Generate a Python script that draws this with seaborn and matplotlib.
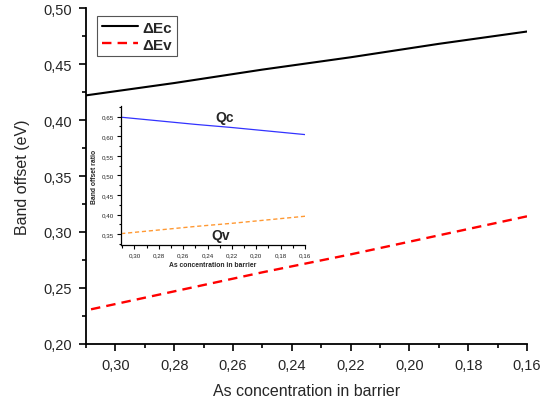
import matplotlib
matplotlib.use("Agg")
import matplotlib.pyplot as plt
from matplotlib.ticker import FuncFormatter, MultipleLocator
import seaborn as sns
import pandas as pd

# As concentration in the barrier and the band offsets (eV)
conc = [0.31, 0.28, 0.25, 0.22, 0.19, 0.16]
delta_ec = [0.422, 0.433, 0.445, 0.456, 0.468, 0.479]
delta_ev = [0.230, 0.247, 0.264, 0.280, 0.297, 0.314]

# Band offset ratios for the inset
q_c = [0.648, 0.639, 0.630, 0.622, 0.613, 0.604]
q_v = [0.352, 0.361, 0.370, 0.378, 0.387, 0.396]

sns.set_style("ticks")
plt.rcParams["font.family"] = ["Liberation Sans", "DejaVu Sans"]

df = pd.DataFrame({"conc": conc, "dEc": delta_ec, "dEv": delta_ev,
                   "Qc": q_c, "Qv": q_v})

comma = FuncFormatter(lambda v, _: f"{v:.2f}".replace(".", ","))

fig = plt.figure(figsize=(5.43, 4.02), dpi=100)
ax = fig.add_axes([0.1584, 0.1418, 0.8121, 0.8358])

sns.lineplot(data=df, x="conc", y="dEc", ax=ax, color="black", lw=1.5,
             label="ΔEc")
sns.lineplot(data=df, x="conc", y="dEv", ax=ax, color="#ff0000", lw=1.7,
             label="ΔEv", dashes=False)
ax.lines[1].set_dashes((4, 2.6))

ax.set_xlim(0.31, 0.16)
ax.set_ylim(0.20, 0.50)
ax.xaxis.set_major_locator(MultipleLocator(0.02))
ax.xaxis.set_minor_locator(MultipleLocator(0.01))
ax.yaxis.set_major_locator(MultipleLocator(0.05))
ax.yaxis.set_minor_locator(MultipleLocator(0.025))
ax.xaxis.set_major_formatter(comma)
ax.yaxis.set_major_formatter(comma)
ax.tick_params(which="major", direction="out", length=5, width=1.2,
               labelsize=10.5, pad=5, color="black")
ax.tick_params(which="minor", direction="out", length=3, width=1.2,
               color="black")
for side in ("left", "bottom"):
    ax.spines[side].set_linewidth(1.3)
    ax.spines[side].set_color("black")
sns.despine(ax=ax)
ax.set_xlabel("As concentration in barrier", fontsize=11.5, labelpad=8)
ax.set_ylabel("Band offset (eV)", fontsize=11.5, labelpad=10)

leg = ax.legend(loc="upper left", bbox_to_anchor=(0.018, 0.985),
                prop={"weight": "bold", "size": 11}, handlelength=2.4,
                handletextpad=0.3, borderpad=0.3, labelspacing=0.2,
                fancybox=False, framealpha=1, borderaxespad=0.2)
leg.get_frame().set_edgecolor("#555555")
leg.get_frame().set_linewidth(0.8)

# Inset with the band offset ratios
ins = fig.add_axes([0.2228, 0.388, 0.339, 0.346])
sns.lineplot(data=df, x="conc", y="Qc", ax=ins, color="#3333ff", lw=0.9)
sns.lineplot(data=df, x="conc", y="Qv", ax=ins, color="#ff9933", lw=1.0)
ins.lines[1].set_dashes((3, 2))
ins.set_xlim(0.311, 0.16)
ins.set_ylim(0.3227, 0.677)
ins.xaxis.set_major_locator(MultipleLocator(0.02))
ins.xaxis.set_minor_locator(MultipleLocator(0.01))
ins.yaxis.set_major_locator(MultipleLocator(0.05))
ins.yaxis.set_minor_locator(MultipleLocator(0.025))
ins.xaxis.set_major_formatter(comma)
ins.yaxis.set_major_formatter(comma)
ins.tick_params(which="major", direction="out", length=3, width=0.8,
                labelsize=4.5, pad=2, color="black")
ins.tick_params(which="minor", direction="out", length=1.8, width=0.8,
                color="black")
for side in ("left", "bottom"):
    ins.spines[side].set_linewidth(0.9)
    ins.spines[side].set_color("black")
sns.despine(ax=ins)
ins.patch.set_alpha(0)
ins.set_xlabel("As concentration in barrier", fontsize=4.9,
               fontweight="bold", labelpad=3)
ins.set_ylabel("Band offset ratio", fontsize=4.9, fontweight="bold",
               labelpad=3)
ins.text(0.226, 0.650, "Qc", fontsize=10, fontweight="bold",
         ha="center", va="center")
ins.text(0.229, 0.349, "Qv", fontsize=10, fontweight="bold",
         ha="center", va="center")

fig.savefig("out.png", dpi=100)
